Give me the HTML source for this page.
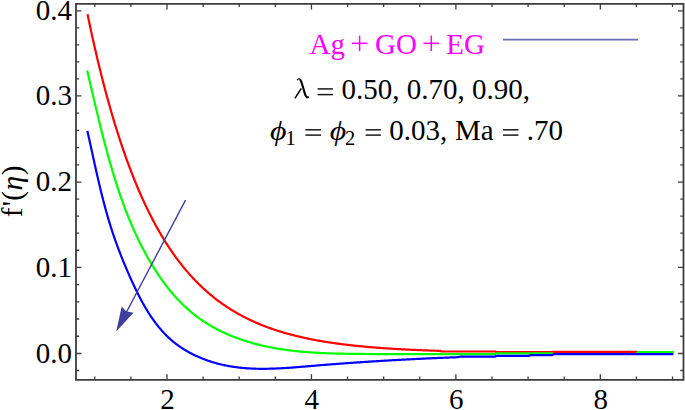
<!DOCTYPE html>
<html><head><meta charset="utf-8"><style>
html,body{margin:0;padding:0;background:#fff;width:685px;height:410px;overflow:hidden}
svg{display:block}
text{font-family:"Liberation Serif", serif}
</style></head><body>
<svg width="685" height="410" viewBox="0 0 685 410">
<rect width="685" height="410" fill="#fff"/>
<g fill="none" stroke-width="2.2" stroke-linejoin="round">
<path d="M87.50,14.19 L88.15,17.33 L88.80,20.45 L89.46,23.53 L90.11,26.59 L90.76,29.62 L91.41,32.62 L92.06,35.59 L92.71,38.54 L93.37,41.45 L94.02,44.34 L94.67,47.21 L95.32,50.04 L95.97,52.86 L96.63,55.64 L97.28,58.40 L97.93,61.13 L98.58,63.84 L99.23,66.52 L99.88,69.18 L100.54,71.82 L101.19,74.43 L101.84,77.01 L102.49,79.57 L103.14,82.11 L103.80,84.62 L104.45,87.11 L105.10,89.58 L105.75,92.02 L106.40,94.45 L107.06,96.84 L107.71,99.22 L108.36,101.58 L109.01,103.91 L109.66,106.22 L110.31,108.51 L110.97,110.78 L111.62,113.03 L112.27,115.25 L112.92,117.46 L113.57,119.65 L114.23,121.81 L114.88,123.96 L115.53,126.08 L116.18,128.19 L116.83,130.27 L117.48,132.34 L118.14,134.39 L118.79,136.42 L119.44,138.43 L120.09,140.42 L120.74,142.39 L121.40,144.34 L122.05,146.28 L122.70,148.20 L123.35,150.10 L124.00,151.98 L124.65,153.85 L125.31,155.70 L125.96,157.53 L126.61,159.34 L127.26,161.14 L127.91,162.92 L128.57,164.68 L129.22,166.43 L129.87,168.16 L130.52,169.88 L131.17,171.58 L131.82,173.26 L132.48,174.93 L133.13,176.58 L133.78,178.22 L134.43,179.84 L135.08,181.45 L135.74,183.04 L136.39,184.62 L137.04,186.18 L137.69,187.73 L138.34,189.26 L138.99,190.78 L139.65,192.29 L140.30,193.78 L140.95,195.26 L141.60,196.72 L142.25,198.17 L142.91,199.61 L143.56,201.03 L144.21,202.44 L144.86,203.84 L145.51,205.22 L146.17,206.60 L146.82,207.95 L147.47,209.30 L148.12,210.63 L148.77,211.96 L149.42,213.26 L150.08,214.56 L150.73,215.85 L151.38,217.12 L152.03,218.38 L152.68,219.63 L153.34,220.87 L153.99,222.09 L154.64,223.31 L155.29,224.51 L155.94,225.71 L156.59,226.89 L157.25,228.06 L157.90,229.22 L158.55,230.37 L159.20,231.51 L159.85,232.63 L160.51,233.75 L161.16,234.86 L161.81,235.95 L162.46,237.04 L163.11,238.12 L163.76,239.18 L164.42,240.24 L165.07,241.29 L165.72,242.32 L166.37,243.35 L167.02,244.37 L167.68,245.38 L168.33,246.38 L168.98,247.37 L169.63,248.35 L170.28,249.32 L170.93,250.28 L171.59,251.24 L172.24,252.18 L172.89,253.12 L173.54,254.04 L174.19,254.96 L174.85,255.87 L175.50,256.77 L176.15,257.67 L176.80,258.55 L177.45,259.43 L178.11,260.30 L178.76,261.16 L179.41,262.01 L180.06,262.86 L180.71,263.69 L181.36,264.52 L182.02,265.34 L182.67,266.16 L183.32,266.96 L183.97,267.76 L184.62,268.55 L185.28,269.34 L185.93,270.12 L186.58,270.89 L187.23,271.65 L187.88,272.40 L188.53,273.15 L189.19,273.89 L189.84,274.63 L190.49,275.36 L191.14,276.08 L191.79,276.79 L192.45,277.50 L193.10,278.20 L193.75,278.89 L194.40,279.58 L195.05,280.26 L195.70,280.94 L196.36,281.61 L197.01,282.27 L197.66,282.93 L198.31,283.58 L198.96,284.22 L199.62,284.86 L200.27,285.50 L200.92,286.12 L201.57,286.74 L202.22,287.36 L202.87,287.97 L203.53,288.57 L204.18,289.17 L204.83,289.76 L205.48,290.35 L206.13,290.93 L206.79,291.51 L207.44,292.08 L208.09,292.65 L208.74,293.21 L209.39,293.76 L210.05,294.31 L210.70,294.86 L211.35,295.40 L212.00,295.93 L212.65,296.46 L213.30,296.99 L213.96,297.51 L214.61,298.03 L215.26,298.54 L215.91,299.04 L216.56,299.54 L217.22,300.04 L217.87,300.53 L218.52,301.02 L219.17,301.50 L219.82,301.98 L220.47,302.45 L221.13,302.92 L221.78,303.39 L222.43,303.85 L223.08,304.31 L223.73,304.76 L224.39,305.21 L225.04,305.65 L225.69,306.09 L226.34,306.53 L226.99,306.96 L227.64,307.39 L228.30,307.81 L228.95,308.23 L229.60,308.65 L230.25,309.06 L230.90,309.47 L231.56,309.87 L232.21,310.27 L232.86,310.67 L233.51,311.06 L234.16,311.45 L234.81,311.84 L235.47,312.22 L236.12,312.60 L236.77,312.98 L237.42,313.35 L238.07,313.72 L238.73,314.08 L239.38,314.44 L240.03,314.80 L240.68,315.16 L241.33,315.51 L241.98,315.86 L242.64,316.20 L243.29,316.55 L243.94,316.89 L244.59,317.22 L245.24,317.55 L245.90,317.88 L246.55,318.21 L247.20,318.53 L247.85,318.85 L248.50,319.17 L249.16,319.49 L249.81,319.80 L250.46,320.11 L251.11,320.41 L251.76,320.72 L252.41,321.02 L253.07,321.31 L253.72,321.61 L254.37,321.90 L255.02,322.19 L255.67,322.48 L256.33,322.76 L256.98,323.04 L257.63,323.32 L258.28,323.60 L258.93,323.87 L259.58,324.14 L260.24,324.41 L260.89,324.67 L261.54,324.94 L262.19,325.20 L262.84,325.46 L263.50,325.71 L264.15,325.97 L264.80,326.22 L265.45,326.47 L266.10,326.72 L266.75,326.96 L267.41,327.20 L268.06,327.44 L268.71,327.68 L269.36,327.92 L270.01,328.15 L270.67,328.38 L271.32,328.61 L271.97,328.84 L272.62,329.06 L273.27,329.28 L273.92,329.51 L274.58,329.72 L275.23,329.94 L275.88,330.16 L276.53,330.37 L277.18,330.58 L277.84,330.79 L278.49,330.99 L279.14,331.20 L279.79,331.40 L280.44,331.60 L281.10,331.80 L281.75,332.00 L282.40,332.20 L283.05,332.39 L283.70,332.58 L284.35,332.77 L285.01,332.96 L285.66,333.15 L286.31,333.33 L286.96,333.52 L287.61,333.70 L288.27,333.88 L288.92,334.05 L289.57,334.23 L290.22,334.41 L290.87,334.58 L291.52,334.75 L292.18,334.92 L292.83,335.09 L293.48,335.26 L294.13,335.42 L294.78,335.59 L295.44,335.75 L296.09,335.91 L296.74,336.07 L297.39,336.23 L298.04,336.38 L298.69,336.54 L299.35,336.69 L300.00,336.84 L300.65,336.99 L301.30,337.14 L301.95,337.29 L302.61,337.44 L303.26,337.58 L303.91,337.73 L304.56,337.87 L305.21,338.01 L305.86,338.15 L306.52,338.29 L307.17,338.43 L307.82,338.56 L308.47,338.70 L309.12,338.83 L309.78,338.96 L310.43,339.09 L311.08,339.22 L311.73,339.35 L312.38,339.48 L313.04,339.60 L313.69,339.73 L314.34,339.85 L314.99,339.98 L315.64,340.10 L316.29,340.22 L316.95,340.34 L317.60,340.46 L318.25,340.57 L318.90,340.69 L319.55,340.80 L320.21,340.92 L320.86,341.03 L321.51,341.14 L322.16,341.25 L322.81,341.36 L323.46,341.47 L324.12,341.58 L324.77,341.69 L325.42,341.79 L326.07,341.90 L326.72,342.00 L327.38,342.10 L328.03,342.21 L328.68,342.31 L329.33,342.41 L329.98,342.51 L330.63,342.60 L331.29,342.70 L331.94,342.80 L332.59,342.89 L333.24,342.99 L333.89,343.08 L334.55,343.17 L335.20,343.27 L335.85,343.36 L336.50,343.45 L337.15,343.54 L337.80,343.62 L338.46,343.71 L339.11,343.80 L339.76,343.89 L340.41,343.97 L341.06,344.06 L341.72,344.14 L342.37,344.22 L343.02,344.30 L343.67,344.39 L344.32,344.47 L344.97,344.55 L345.63,344.63 L346.28,344.70 L346.93,344.78 L347.58,344.86 L348.23,344.94 L348.89,345.01 L349.54,345.09 L350.19,345.16 L350.84,345.23 L351.49,345.31 L352.15,345.38 L352.80,345.45 L353.45,345.52 L354.10,345.59 L354.75,345.66 L355.40,345.73 L356.06,345.80 L356.71,345.86 L357.36,345.93 L358.01,346.00 L358.66,346.06 L359.32,346.13 L359.97,346.19 L360.62,346.26 L361.27,346.32 L361.92,346.38 L362.57,346.45 L363.23,346.51 L363.88,346.57 L364.53,346.63 L365.18,346.69 L365.83,346.75 L366.49,346.81 L367.14,346.86 L367.79,346.92 L368.44,346.98 L369.09,347.04 L369.74,347.09 L370.40,347.15 L371.05,347.20 L371.70,347.26 L372.35,347.31 L373.00,347.37 L373.66,347.42 L374.31,347.47 L374.96,347.52 L375.61,347.57 L376.26,347.63 L376.91,347.68 L377.57,347.73 L378.22,347.78 L378.87,347.83 L379.52,347.87 L380.17,347.92 L380.83,347.97 L381.48,348.02 L382.13,348.06 L382.78,348.11 L383.43,348.16 L384.09,348.20 L384.74,348.25 L385.39,348.29 L386.04,348.34 L386.69,348.38 L387.34,348.43 L388.00,348.47 L388.65,348.51 L389.30,348.55 L389.95,348.60 L390.60,348.64 L391.26,348.68 L391.91,348.72 L392.56,348.76 L393.21,348.80 L393.86,348.84 L394.51,348.88 L395.17,348.92 L395.82,348.96 L396.47,349.00 L397.12,349.03 L397.77,349.07 L398.43,349.11 L399.08,349.14 L399.73,349.18 L400.38,349.22 L401.03,349.25 L401.68,349.29 L402.34,349.32 L402.99,349.36 L403.64,349.39 L404.29,349.43 L404.94,349.46 L405.60,349.50 L406.25,349.53 L406.90,349.56 L407.55,349.59 L408.20,349.63 L408.85,349.66 L409.51,349.69 L410.16,349.72 L410.81,349.75 L411.46,349.78 L412.11,349.81 L412.77,349.85 L413.42,349.88 L414.07,349.90 L414.72,349.93 L415.37,349.96 L416.03,349.99 L416.68,350.02 L417.33,350.05 L417.98,350.08 L418.63,350.11 L419.28,350.13 L419.94,350.16 L420.59,350.19 L421.24,350.21 L421.89,350.24 L422.54,350.27 L423.20,350.29 L423.85,350.32 L424.50,350.35 L425.15,350.37 L425.80,350.40 L426.45,350.42 L427.11,350.45 L427.76,350.47 L428.41,350.49 L429.06,350.52 L429.71,350.54 L430.37,350.57 L431.02,350.59 L431.67,350.61 L432.32,350.64 L432.97,350.66 L433.62,350.68 L434.28,350.70 L434.93,350.72 L435.58,350.75 L436.23,350.77 L436.88,350.79 L437.54,350.81 L438.19,350.83 L438.84,350.85 L439.49,350.87 L440.14,350.89 L440.79,351.13 L441.45,351.39 L442.10,351.50 L442.75,351.50 L443.40,351.50 L444.05,351.50 L444.71,351.50 L445.36,351.50 L446.01,351.50 L446.66,351.50 L447.31,351.50 L447.96,351.50 L448.62,351.50 L449.27,351.50 L449.92,351.50 L450.57,351.50 L451.22,351.50 L451.88,351.50 L452.53,351.50 L453.18,351.50 L453.83,351.50 L454.48,351.50 L455.14,351.50 L455.79,351.50 L456.44,351.50 L457.09,351.50 L457.74,351.50 L458.39,351.50 L459.05,351.50 L459.70,351.50 L460.35,351.50 L461.00,351.50 L461.65,351.50 L462.31,351.50 L462.96,351.50 L463.61,351.50 L464.26,351.50 L464.91,351.50 L465.56,351.50 L466.22,351.50 L466.87,351.50 L467.52,351.50 L468.17,351.50 L468.82,351.50 L469.48,351.50 L470.13,351.50 L470.78,351.50 L471.43,351.50 L472.08,351.50 L472.73,351.50 L473.39,351.50 L474.04,351.50 L474.69,351.50 L475.34,351.50 L475.99,351.50 L476.65,351.50 L477.30,351.50 L477.95,351.50 L478.60,351.50 L479.25,351.50 L479.90,351.50 L480.56,351.50 L481.21,351.50 L481.86,351.50 L482.51,351.50 L483.16,351.50 L483.82,351.50 L484.47,351.50 L485.12,351.50 L485.77,351.50 L486.42,351.50 L487.08,351.50 L487.73,351.50 L488.38,351.50 L489.03,351.50 L489.68,351.50 L490.33,351.50 L490.99,351.50 L491.64,351.50 L492.29,351.50 L492.94,351.50 L493.59,351.50 L494.25,351.50 L494.90,351.50 L495.55,351.60 L496.20,351.82 L496.85,352.00 L497.50,352.00 L498.16,352.00 L498.81,352.00 L499.46,352.00 L500.11,352.00 L500.76,352.00 L501.42,352.00 L502.07,352.00 L502.72,352.00 L503.37,352.00 L504.02,352.00 L504.67,352.00 L505.33,352.00 L505.98,352.00 L506.63,352.00 L507.28,352.00 L507.93,352.00 L508.59,352.00 L509.24,352.00 L509.89,352.00 L510.54,352.00 L511.19,352.00 L511.84,352.00 L512.50,352.00 L513.15,352.00 L513.80,352.00 L514.45,352.00 L515.10,352.00 L515.76,352.00 L516.41,352.00 L517.06,352.00 L517.71,352.00 L518.36,352.00 L519.02,352.00 L519.67,352.00 L520.32,352.00 L520.97,352.00 L521.62,352.00 L522.27,352.00 L522.93,352.00 L523.58,352.00 L524.23,352.00 L524.88,352.00 L525.53,352.00 L526.19,352.00 L526.84,352.00 L527.49,352.00 L528.14,352.00 L528.79,352.00 L529.44,352.00 L530.10,352.00 L530.75,352.00 L531.40,352.00 L532.05,352.00 L532.70,352.00 L533.36,352.00 L534.01,352.00 L534.66,352.00 L535.31,352.00 L535.96,352.00 L536.61,352.00 L537.27,352.00 L537.92,352.00 L538.57,352.00 L539.22,352.00 L539.87,352.00 L540.53,352.00 L541.18,352.00 L541.83,352.00 L542.48,352.00 L543.13,352.00 L543.78,352.00 L544.44,352.00 L545.09,352.00 L545.74,352.00 L546.39,352.00 L547.04,352.00 L547.70,352.00 L548.35,352.00 L549.00,352.00 L549.65,352.00 L550.30,352.00 L550.95,352.00 L551.61,352.00 L552.26,352.00 L552.91,351.96 L553.56,351.91 L554.21,351.90 L554.87,351.90 L555.52,351.90 L556.17,351.90 L556.82,351.90 L557.47,351.90 L558.13,351.90 L558.78,351.90 L559.43,351.90 L560.08,351.90 L560.73,351.90 L561.38,351.90 L562.04,351.90 L562.69,351.90 L563.34,351.90 L563.99,351.90 L564.64,351.90 L565.30,351.90 L565.95,351.90 L566.60,351.90 L567.25,351.90 L567.90,351.90 L568.55,351.90 L569.21,351.90 L569.86,351.90 L570.51,351.90 L571.16,351.90 L571.81,351.90 L572.47,351.90 L573.12,351.90 L573.77,351.90 L574.42,351.90 L575.07,351.90 L575.72,351.90 L576.38,351.90 L577.03,351.90 L577.68,351.90 L578.33,351.90 L578.98,351.90 L579.64,351.90 L580.29,351.90 L580.94,351.90 L581.59,351.90 L582.24,351.90 L582.89,351.90 L583.55,351.90 L584.20,351.90 L584.85,351.90 L585.50,351.90 L586.15,351.90 L586.81,351.90 L587.46,351.90 L588.11,351.90 L588.76,351.90 L589.41,351.90 L590.07,351.90 L590.72,351.90 L591.37,351.90 L592.02,351.90 L592.67,351.90 L593.32,351.90 L593.98,351.90 L594.63,351.90 L595.28,351.90 L595.93,351.90 L596.58,351.90 L597.24,351.90 L597.89,351.90 L598.54,351.90 L599.19,351.90 L599.84,351.90 L600.49,351.90 L601.15,351.90 L601.80,351.90 L602.45,351.90 L603.10,351.90 L603.75,351.90 L604.41,351.90 L605.06,351.90 L605.71,351.90 L606.36,351.90 L607.01,351.90 L607.66,351.90 L608.32,351.90 L608.97,351.90 L609.62,351.90 L610.27,351.90 L610.92,351.90 L611.58,351.90 L612.23,351.90 L612.88,351.90 L613.53,351.90 L614.18,351.90 L614.83,351.90 L615.49,351.90 L616.14,351.90 L616.79,351.90 L617.44,351.90 L618.09,351.90 L618.75,351.90 L619.40,351.90 L620.05,351.90 L620.70,351.90 L621.35,351.90 L622.01,351.90 L622.66,351.90 L623.31,351.90 L623.96,351.90 L624.61,351.90 L625.26,351.90 L625.92,351.90 L626.57,351.90 L627.22,351.90 L627.87,351.90 L628.52,351.90 L629.18,351.90 L629.83,351.90 L630.48,351.90 L631.13,351.90 L631.78,351.90 L632.43,351.90 L633.09,351.90 L633.74,351.90 L634.39,351.90 L635.04,351.90 L635.69,351.90 L636.35,351.91 L637.00,352.00 L637.65,352.09 L638.30,352.10 L638.95,352.10 L639.60,352.10 L640.26,352.10 L640.91,352.10 L641.56,352.10 L642.21,352.10 L642.86,352.10 L643.52,352.10 L644.17,352.10 L644.82,352.10 L645.47,352.10 L646.12,352.10 L646.77,352.10 L647.43,352.10 L648.08,352.10 L648.73,352.10 L649.38,352.10 L650.03,352.10 L650.69,352.10 L651.34,352.10 L651.99,352.10 L652.64,352.10 L653.29,352.10 L653.94,352.10 L654.60,352.10 L655.25,352.10 L655.90,352.10 L656.55,352.10 L657.20,352.10 L657.86,352.10 L658.51,352.10 L659.16,352.10 L659.81,352.10 L660.46,352.10 L661.12,352.10 L661.77,352.10 L662.42,352.10 L663.07,352.10 L663.72,352.10 L664.37,352.10 L665.03,352.10 L665.68,352.10 L666.33,352.10 L666.98,352.10 L667.63,352.10 L668.29,352.10 L668.94,352.10 L669.59,352.10 L670.24,352.10 L670.89,352.10 L671.54,352.10 L672.20,352.10 L672.85,352.10 L673.50,352.10" stroke="#ff0000"/>
<path d="M87.20,70.60 L87.48,71.80 L87.77,73.00 L88.05,74.21 L88.33,75.41 L88.61,76.62 L88.90,77.83 L89.18,79.04 L89.46,80.25 L89.74,81.46 L90.03,82.67 L90.31,83.88 L90.59,85.09 L90.88,86.30 L91.16,87.52 L91.44,88.73 L91.72,89.94 L92.01,91.15 L92.29,92.36 L92.57,93.57 L92.85,94.78 L93.14,95.99 L93.42,97.19 L93.70,98.40 L93.98,99.60 L94.27,100.81 L94.55,102.01 L94.83,103.21 L95.12,104.41 L95.40,105.60 L95.68,106.80 L95.96,107.99 L96.25,109.18 L96.53,110.36 L96.81,111.55 L97.09,112.73 L97.38,113.91 L97.66,115.08 L97.94,116.26 L98.23,117.43 L98.51,118.59 L98.79,119.76 L99.07,120.92 L99.36,122.08 L99.64,123.23 L99.92,124.38 L100.20,125.52 L100.49,126.67 L100.77,127.80 L101.05,128.94 L101.34,130.07 L101.62,131.20 L101.90,132.32 L102.18,133.44 L102.47,134.55 L102.75,135.66 L103.03,136.77 L103.31,137.87 L103.60,138.96 L103.88,140.06 L104.16,141.14 L104.45,142.23 L104.73,143.31 L105.01,144.38 L105.29,145.45 L105.58,146.51 L105.86,147.57 L106.14,148.63 L106.42,149.68 L106.71,150.73 L106.99,151.77 L107.27,152.80 L107.55,153.83 L107.84,154.86 L108.12,155.88 L108.40,156.90 L108.69,157.91 L108.97,158.92 L109.25,159.92 L109.53,160.92 L109.82,161.91 L110.10,162.90 L110.38,163.88 L110.66,164.86 L110.95,165.83 L111.23,166.80 L111.51,167.76 L111.80,168.72 L112.08,169.68 L112.36,170.62 L112.64,171.57 L112.93,172.51 L113.21,173.44 L113.49,174.37 L113.77,175.30 L114.06,176.22 L114.34,177.13 L114.62,178.04 L114.91,178.95 L115.19,179.85 L115.47,180.75 L115.75,181.64 L116.04,182.53 L116.32,183.41 L116.60,184.29 L116.88,185.16 L117.17,186.03 L117.45,186.90 L117.73,187.76 L118.02,188.62 L118.30,189.47 L118.58,190.31 L118.86,191.16 L119.15,191.99 L119.43,192.83 L119.71,193.66 L119.99,194.48 L120.28,195.30 L120.56,196.12 L120.84,196.93 L121.12,197.74 L121.41,198.54 L121.69,199.34 L121.97,200.14 L122.26,200.93 L122.54,201.71 L122.82,202.49 L123.10,203.27 L123.39,204.04 L123.67,204.81 L123.95,205.58 L124.23,206.34 L124.52,207.10 L124.80,207.85 L125.08,208.60 L125.37,209.34 L125.65,210.08 L125.93,210.82 L126.21,211.55 L126.50,212.28 L126.78,213.01 L127.06,213.73 L127.34,214.44 L127.63,215.16 L127.91,215.87 L128.19,216.57 L128.48,217.27 L128.76,217.97 L129.04,218.66 L129.32,219.36 L129.61,220.04 L129.89,220.73 L130.17,221.40 L130.45,222.08 L130.74,222.75 L131.02,223.42 L131.30,224.09 L131.58,224.75 L131.87,225.41 L132.15,226.06 L132.43,226.71 L132.72,227.36 L133.00,228.01 L133.28,228.65 L133.56,229.28 L133.85,229.92 L134.13,230.55 L134.41,231.18 L134.69,231.80 L134.98,232.42 L135.26,233.04 L135.54,233.66 L135.83,234.27 L136.11,234.88 L136.39,235.48 L136.67,236.09 L136.96,236.69 L137.24,237.28 L137.52,237.88 L137.80,238.47 L138.09,239.06 L138.37,239.64 L138.65,240.22 L138.94,240.80 L139.22,241.38 L139.50,241.95 L139.78,242.52 L140.07,243.09 L140.35,243.66 L140.63,244.22 L140.91,244.78 L141.20,245.33 L141.48,245.89 L141.76,246.44 L142.05,246.99 L142.33,247.54 L142.61,248.08 L142.89,248.62 L143.18,249.16 L143.46,249.70 L143.74,250.23 L144.02,250.76 L144.31,251.29 L144.59,251.82 L144.87,252.34 L145.15,252.87 L145.44,253.39 L145.72,253.90 L146.00,254.42 L146.29,254.93 L146.57,255.44 L146.85,255.95 L147.13,256.45 L147.42,256.96 L147.70,257.46 L147.98,257.96 L148.26,258.45 L148.55,258.95 L148.83,259.44 L149.11,259.93 L149.40,260.42 L149.68,260.90 L149.96,261.38 L150.24,261.87 L150.53,262.34 L150.81,262.82 L151.09,263.30 L151.37,263.77 L151.66,264.24 L151.94,264.71 L152.22,265.17 L152.51,265.63 L152.79,266.10 L153.07,266.56 L153.35,267.01 L153.64,267.47 L153.92,267.92 L154.20,268.37 L154.48,268.82 L154.77,269.27 L155.05,269.71 L155.33,270.15 L155.62,270.60 L155.90,271.03 L156.18,271.47 L156.46,271.90 L156.75,272.34 L157.03,272.77 L157.31,273.20 L157.59,273.62 L157.88,274.05 L158.16,274.47 L158.44,274.89 L158.72,275.31 L159.01,275.73 L159.29,276.14 L159.57,276.55 L159.86,276.96 L160.14,277.37 L160.42,277.78 L160.70,278.19 L160.99,278.59 L161.27,278.99 L161.55,279.39 L161.83,279.79 L162.12,280.18 L162.40,280.58 L162.68,280.97 L162.97,281.36 L163.25,281.75 L163.53,282.14 L163.81,282.52 L164.10,282.90 L164.38,283.28 L164.66,283.66 L164.94,284.04 L165.23,284.42 L165.51,284.79 L165.79,285.16 L166.08,285.53 L166.36,285.90 L166.64,286.27 L166.92,286.63 L167.21,287.00 L167.49,287.36 L167.77,287.72 L168.05,288.08 L168.34,288.43 L168.62,288.79 L168.90,289.14 L169.18,289.49 L169.47,289.84 L169.75,290.19 L170.03,290.54 L170.32,290.88 L170.60,291.22 L170.88,291.56 L171.16,291.90 L171.45,292.24 L171.73,292.58 L172.01,292.91 L172.29,293.24 L172.58,293.57 L172.86,293.90 L173.14,294.23 L173.43,294.56 L173.71,294.88 L173.99,295.21 L174.27,295.53 L174.56,295.85 L174.84,296.17 L175.12,296.48 L175.40,296.80 L175.69,297.11 L175.97,297.42 L176.25,297.73 L176.54,298.04 L176.82,298.35 L177.10,298.65 L177.38,298.96 L177.67,299.26 L177.95,299.56 L178.23,299.86 L178.51,300.16 L178.80,300.45 L179.08,300.75 L179.36,301.04 L179.65,301.34 L179.93,301.63 L180.21,301.91 L180.49,302.20 L180.78,302.49 L181.06,302.77 L181.34,303.06 L181.62,303.34 L181.91,303.62 L182.19,303.90 L182.47,304.17 L182.75,304.45 L183.04,304.72 L183.32,305.00 L183.60,305.27 L183.89,305.54 L184.17,305.81 L184.45,306.07 L184.73,306.34 L185.02,306.60 L185.30,306.87 L185.58,307.13 L185.86,307.39 L186.15,307.65 L186.43,307.91 L186.71,308.16 L187.00,308.42 L187.28,308.67 L187.56,308.92 L187.84,309.17 L188.13,309.42 L188.41,309.67 L188.69,309.92 L188.97,310.16 L189.26,310.41 L189.54,310.65 L189.82,310.89 L190.11,311.13 L190.39,311.37 L190.67,311.61 L190.95,311.85 L191.24,312.09 L191.52,312.32 L191.80,312.55 L192.08,312.79 L192.37,313.02 L192.65,313.25 L192.93,313.48 L193.22,313.70 L193.50,313.93 L193.78,314.16 L194.06,314.38 L194.35,314.60 L194.63,314.83 L194.91,315.05 L195.19,315.27 L195.48,315.48 L195.76,315.70 L196.04,315.92 L196.32,316.13 L196.61,316.35 L196.89,316.56 L197.17,316.77 L197.46,316.98 L197.74,317.19 L198.02,317.40 L198.30,317.61 L198.59,317.82 L198.87,318.02 L199.15,318.23 L199.43,318.43 L199.72,318.63 L200.00,318.84 L200.50,319.19 L201.45,319.85 L202.40,320.50 L203.34,321.14 L204.29,321.77 L205.24,322.39 L206.19,323.00 L207.14,323.60 L208.08,324.19 L209.03,324.77 L209.98,325.33 L210.93,325.89 L211.87,326.44 L212.82,326.98 L213.77,327.51 L214.72,328.03 L215.67,328.54 L216.61,329.05 L217.56,329.54 L218.51,330.03 L219.46,330.51 L220.41,330.98 L221.35,331.44 L222.30,331.89 L223.25,332.34 L224.20,332.78 L225.15,333.22 L226.09,333.64 L227.04,334.06 L227.99,334.47 L228.94,334.88 L229.88,335.28 L230.83,335.67 L231.78,336.05 L232.73,336.43 L233.68,336.81 L234.62,337.17 L235.57,337.54 L236.52,337.89 L237.47,338.24 L238.42,338.58 L239.36,338.92 L240.31,339.25 L241.26,339.58 L242.21,339.90 L243.16,340.22 L244.10,340.53 L245.05,340.83 L246.00,341.13 L246.95,341.43 L247.89,341.72 L248.84,342.00 L249.79,342.28 L250.74,342.56 L251.69,342.83 L252.63,343.10 L253.58,343.36 L254.53,343.62 L255.48,343.87 L256.43,344.12 L257.37,344.36 L258.32,344.60 L259.27,344.84 L260.22,345.07 L261.17,345.29 L262.11,345.52 L263.06,345.73 L264.01,345.95 L264.96,346.16 L265.90,346.37 L266.85,346.57 L267.80,346.77 L268.75,346.96 L269.70,347.15 L270.64,347.34 L271.59,347.53 L272.54,347.71 L273.49,347.88 L274.44,348.06 L275.38,348.23 L276.33,348.39 L277.28,348.55 L278.23,348.71 L279.18,348.87 L280.12,349.02 L281.07,349.17 L282.02,349.32 L282.97,349.46 L283.91,349.60 L284.86,349.74 L285.81,349.87 L286.76,350.00 L287.71,350.13 L288.65,350.25 L289.60,350.37 L290.55,350.49 L291.50,350.61 L292.45,350.72 L293.39,350.83 L294.34,350.94 L295.29,351.04 L296.24,351.15 L297.19,351.25 L298.13,351.34 L299.08,351.44 L300.03,351.53 L300.98,351.62 L301.92,351.71 L302.87,351.79 L303.82,351.87 L304.77,351.95 L305.72,352.03 L306.66,352.11 L307.61,352.18 L308.56,352.25 L309.51,352.32 L310.46,352.39 L311.40,352.46 L312.35,352.52 L313.30,352.58 L314.25,352.64 L315.20,352.70 L316.14,352.75 L317.09,352.81 L318.04,352.86 L318.99,352.91 L319.93,352.96 L320.88,353.00 L321.83,353.05 L322.78,353.09 L323.73,353.13 L324.67,353.18 L325.62,353.21 L326.57,353.25 L327.52,353.29 L328.47,353.32 L329.41,353.36 L330.36,353.39 L331.31,353.42 L332.26,353.45 L333.21,353.48 L334.15,353.51 L335.10,353.53 L336.05,353.56 L337.00,353.58 L337.94,353.60 L338.89,353.63 L339.84,353.65 L340.79,353.67 L341.74,353.69 L342.68,353.70 L343.63,353.72 L344.58,353.74 L345.53,353.76 L346.48,353.77 L347.42,353.79 L348.37,353.80 L349.32,353.81 L350.27,353.83 L351.22,353.84 L352.16,353.85 L353.11,353.86 L354.06,353.87 L355.01,353.88 L355.95,353.89 L356.90,353.90 L357.85,353.91 L358.80,353.92 L359.75,353.93 L360.69,353.94 L361.64,353.95 L362.59,353.96 L363.54,353.97 L364.49,353.97 L365.43,353.98 L366.38,353.99 L367.33,354.00 L368.28,354.01 L369.23,354.01 L370.17,354.02 L371.12,354.03 L372.07,354.04 L373.02,354.04 L373.96,354.05 L374.91,354.06 L375.86,354.06 L376.81,354.07 L377.76,354.07 L378.70,354.08 L379.65,354.09 L380.60,354.09 L381.55,354.10 L382.50,354.10 L383.44,354.11 L384.39,354.11 L385.34,354.12 L386.29,354.12 L387.24,354.13 L388.18,354.13 L389.13,354.14 L390.08,354.14 L391.03,354.14 L391.97,354.15 L392.92,354.15 L393.87,354.16 L394.82,354.16 L395.77,354.16 L396.71,354.17 L397.66,354.17 L398.61,354.17 L399.56,354.18 L400.51,354.18 L401.45,354.18 L402.40,354.18 L403.35,354.19 L404.30,354.19 L405.25,354.19 L406.19,354.19 L407.14,354.20 L408.09,354.20 L409.04,354.20 L409.98,354.20 L410.93,354.20 L411.88,354.20 L412.83,354.21 L413.78,354.21 L414.72,354.21 L415.67,354.21 L416.62,354.21 L417.57,354.21 L418.52,354.21 L419.46,354.21 L420.41,354.21 L421.36,354.21 L422.31,354.21 L423.26,354.21 L424.20,354.21 L425.15,354.21 L426.10,354.21 L427.05,354.21 L427.99,354.21 L428.94,354.21 L429.89,354.21 L430.84,354.21 L431.79,354.21 L432.73,354.21 L433.68,354.21 L434.63,354.21 L435.58,354.21 L436.53,354.21 L437.47,354.21 L438.42,354.21 L439.37,354.20 L440.32,354.20 L441.27,354.20 L442.21,354.20 L443.16,354.20 L444.11,354.20 L445.06,354.20 L446.01,354.19 L446.95,354.19 L447.90,354.19 L448.85,354.19 L449.80,354.19 L450.74,354.19 L451.69,354.18 L452.64,354.18 L453.59,354.18 L454.54,354.18 L455.48,354.18 L456.43,354.17 L457.38,354.17 L458.33,354.17 L459.28,354.17 L460.22,354.16 L461.17,354.16 L462.12,354.16 L463.07,354.16 L464.02,354.15 L464.96,354.15 L465.91,354.15 L466.86,354.14 L467.81,354.14 L468.75,354.14 L469.70,354.14 L470.65,354.13 L471.60,354.13 L472.55,354.13 L473.49,354.12 L474.44,354.12 L475.39,354.12 L476.34,354.11 L477.29,354.11 L478.23,354.11 L479.18,354.11 L480.13,354.07 L481.08,354.05 L482.03,354.05 L482.97,354.05 L483.92,354.05 L484.87,354.05 L485.82,354.05 L486.76,354.05 L487.71,354.05 L488.66,354.05 L489.61,354.05 L490.56,354.05 L491.50,354.05 L492.45,354.05 L493.40,354.05 L494.35,354.05 L495.30,354.03 L496.24,353.55 L497.19,353.30 L498.14,353.30 L499.09,353.30 L500.04,353.30 L500.98,353.30 L501.93,353.30 L502.88,353.30 L503.83,353.30 L504.77,353.30 L505.72,353.30 L506.67,353.30 L507.62,353.30 L508.57,353.30 L509.51,353.30 L510.46,353.30 L511.41,353.30 L512.36,353.30 L513.31,353.30 L514.25,353.30 L515.20,353.30 L516.15,353.30 L517.10,353.30 L518.05,353.30 L518.99,353.30 L519.94,353.30 L520.89,353.30 L521.84,353.30 L522.78,353.30 L523.73,353.30 L524.68,353.30 L525.63,353.30 L526.58,353.30 L527.52,353.30 L528.47,353.30 L529.42,353.30 L530.37,353.30 L531.32,353.30 L532.26,353.30 L533.21,353.30 L534.16,353.30 L535.11,353.30 L536.06,353.30 L537.00,353.30 L537.95,353.30 L538.90,353.30 L539.85,353.30 L540.79,353.30 L541.74,353.30 L542.69,353.30 L543.64,353.30 L544.59,353.30 L545.53,353.30 L546.48,353.30 L547.43,353.30 L548.38,353.30 L549.33,353.30 L550.27,353.30 L551.22,353.30 L552.17,353.30 L553.12,353.70 L554.07,354.00 L555.01,354.00 L555.96,354.00 L556.91,354.00 L557.86,354.00 L558.80,354.00 L559.75,354.00 L560.70,354.00 L561.65,354.00 L562.60,354.00 L563.54,354.00 L564.49,354.00 L565.44,354.00 L566.39,354.00 L567.34,354.00 L568.28,354.00 L569.23,354.00 L570.18,354.00 L571.13,354.00 L572.08,354.00 L573.02,354.00 L573.97,354.00 L574.92,354.00 L575.87,354.00 L576.81,354.00 L577.76,354.00 L578.71,354.00 L579.66,354.00 L580.61,354.00 L581.55,354.00 L582.50,354.00 L583.45,354.00 L584.40,354.00 L585.35,354.00 L586.29,354.00 L587.24,354.00 L588.19,354.00 L589.14,354.00 L590.09,354.00 L591.03,354.00 L591.98,354.00 L592.93,354.00 L593.88,354.00 L594.82,354.00 L595.77,354.00 L596.72,354.00 L597.67,354.00 L598.62,354.00 L599.56,354.00 L600.51,354.00 L601.46,354.00 L602.41,354.00 L603.36,354.00 L604.30,354.00 L605.25,354.00 L606.20,354.00 L607.15,354.00 L608.10,354.00 L609.04,354.00 L609.99,354.00 L610.94,354.00 L611.89,354.00 L612.83,354.00 L613.78,354.00 L614.73,354.00 L615.68,354.00 L616.63,354.00 L617.57,354.00 L618.52,354.00 L619.47,354.00 L620.42,354.00 L621.37,354.00 L622.31,354.00 L623.26,354.00 L624.21,354.00 L625.16,354.00 L626.11,354.00 L627.05,354.00 L628.00,354.00 L628.95,354.00 L629.90,354.00 L630.84,354.00 L631.79,354.00 L632.74,354.00 L633.69,354.00 L634.64,354.00 L635.58,354.00 L636.53,353.64 L637.48,352.44 L638.43,352.10 L639.38,352.10 L640.32,352.10 L641.27,352.10 L642.22,352.10 L643.17,352.10 L644.12,352.10 L645.06,352.10 L646.01,352.10 L646.96,352.10 L647.91,352.10 L648.85,352.10 L649.80,352.10 L650.75,352.10 L651.70,352.10 L652.65,352.10 L653.59,352.10 L654.54,352.10 L655.49,352.10 L656.44,352.10 L657.39,352.10 L658.33,352.10 L659.28,352.10 L660.23,352.10 L661.18,352.10 L662.13,352.10 L663.07,352.10 L664.02,352.10 L664.97,352.10 L665.92,352.10 L666.86,352.10 L667.81,352.10 L668.76,352.10 L669.71,352.10 L670.66,352.10 L671.60,352.10 L672.55,352.10 L673.50,352.10" stroke="#00ff00"/>
<path d="M87.30,130.92 L87.58,131.83 L87.86,133.08 L88.15,134.35 L88.43,135.62 L88.71,136.89 L88.99,138.16 L89.28,139.44 L89.56,140.72 L89.84,142.00 L90.12,143.29 L90.41,144.57 L90.69,145.86 L90.97,147.15 L91.25,148.44 L91.54,149.74 L91.82,151.03 L92.10,152.32 L92.38,153.61 L92.67,154.90 L92.95,156.19 L93.23,157.48 L93.51,158.77 L93.80,160.06 L94.08,161.34 L94.36,162.62 L94.64,163.90 L94.93,165.18 L95.21,166.45 L95.49,167.72 L95.77,168.98 L96.06,170.24 L96.34,171.50 L96.62,172.75 L96.90,174.00 L97.19,175.24 L97.47,176.48 L97.75,177.71 L98.03,178.93 L98.32,180.15 L98.60,181.37 L98.88,182.57 L99.16,183.77 L99.45,184.97 L99.73,186.16 L100.01,187.34 L100.29,188.51 L100.58,189.68 L100.86,190.84 L101.14,191.99 L101.42,193.14 L101.71,194.27 L101.99,195.41 L102.27,196.53 L102.55,197.64 L102.84,198.75 L103.12,199.85 L103.40,200.95 L103.68,202.03 L103.96,203.11 L104.25,204.18 L104.53,205.24 L104.81,206.30 L105.09,207.35 L105.38,208.38 L105.66,209.42 L105.94,210.44 L106.22,211.46 L106.51,212.47 L106.79,213.47 L107.07,214.46 L107.35,215.45 L107.64,216.43 L107.92,217.40 L108.20,218.36 L108.48,219.32 L108.77,220.27 L109.05,221.21 L109.33,222.14 L109.61,223.07 L109.90,223.99 L110.18,224.91 L110.46,225.81 L110.74,226.71 L111.03,227.60 L111.31,228.49 L111.59,229.37 L111.87,230.24 L112.16,231.11 L112.44,231.97 L112.72,232.82 L113.00,233.67 L113.29,234.51 L113.57,235.34 L113.85,236.17 L114.13,237.00 L114.42,237.81 L114.70,238.63 L114.98,239.44 L115.26,240.24 L115.55,241.04 L115.83,241.83 L116.11,242.62 L116.39,243.40 L116.68,244.18 L116.96,244.95 L117.24,245.72 L117.52,246.49 L117.81,247.25 L118.09,248.01 L118.37,248.76 L118.65,249.51 L118.94,250.26 L119.22,251.00 L119.50,251.73 L119.78,252.47 L120.06,253.20 L120.35,253.93 L120.63,254.65 L120.91,255.37 L121.19,256.08 L121.48,256.80 L121.76,257.51 L122.04,258.21 L122.32,258.91 L122.61,259.61 L122.89,260.31 L123.17,261.00 L123.45,261.69 L123.74,262.38 L124.02,263.07 L124.30,263.75 L124.58,264.43 L124.87,265.10 L125.15,265.78 L125.43,266.45 L125.71,267.12 L126.00,267.78 L126.28,268.45 L126.56,269.11 L126.84,269.76 L127.13,270.42 L127.41,271.07 L127.69,271.72 L127.97,272.37 L128.26,273.02 L128.54,273.66 L128.82,274.30 L129.10,274.94 L129.39,275.58 L129.67,276.22 L129.95,276.85 L130.23,277.48 L130.52,278.11 L130.80,278.74 L131.08,279.36 L131.36,279.98 L131.65,280.60 L131.93,281.22 L132.21,281.84 L132.49,282.45 L132.78,283.06 L133.06,283.67 L133.34,284.28 L133.62,284.89 L133.91,285.49 L134.19,286.09 L134.47,286.69 L134.75,287.28 L135.04,287.88 L135.32,288.46 L135.60,289.05 L135.88,289.64 L136.16,290.22 L136.45,290.80 L136.73,291.37 L137.01,291.95 L137.29,292.52 L137.58,293.08 L137.86,293.65 L138.14,294.21 L138.42,294.77 L138.71,295.32 L138.99,295.88 L139.27,296.43 L139.55,296.97 L139.84,297.52 L140.12,298.06 L140.40,298.59 L140.68,299.13 L140.97,299.66 L141.25,300.19 L141.53,300.71 L141.81,301.23 L142.10,301.75 L142.38,302.27 L142.66,302.78 L142.94,303.29 L143.23,303.79 L143.51,304.30 L143.79,304.80 L144.07,305.29 L144.36,305.79 L144.64,306.28 L144.92,306.76 L145.20,307.25 L145.49,307.73 L145.77,308.21 L146.05,308.68 L146.33,309.15 L146.62,309.62 L146.90,310.09 L147.18,310.55 L147.46,311.01 L147.75,311.47 L148.03,311.92 L148.31,312.37 L148.59,312.82 L148.88,313.26 L149.16,313.70 L149.44,314.14 L149.72,314.58 L150.01,315.01 L150.29,315.44 L150.57,315.86 L150.85,316.29 L151.14,316.71 L151.42,317.13 L151.70,317.54 L151.98,317.95 L152.26,318.36 L152.55,318.77 L152.83,319.17 L153.11,319.57 L153.39,319.97 L153.68,320.37 L153.96,320.76 L154.24,321.15 L154.52,321.54 L154.81,321.92 L155.09,322.30 L155.37,322.68 L155.65,323.06 L155.94,323.43 L156.22,323.80 L156.50,324.17 L156.78,324.54 L157.07,324.90 L157.35,325.26 L157.63,325.62 L157.91,325.97 L158.20,326.33 L158.48,326.68 L158.76,327.02 L159.04,327.37 L159.33,327.71 L159.61,328.05 L159.89,328.39 L160.17,328.72 L160.46,329.06 L160.74,329.38 L161.02,329.71 L161.30,330.04 L161.59,330.36 L161.87,330.68 L162.15,331.00 L162.43,331.31 L162.72,331.62 L163.00,331.93 L163.28,332.24 L163.56,332.55 L163.85,332.85 L164.13,333.15 L164.41,333.45 L164.69,333.75 L164.98,334.04 L165.26,334.33 L165.54,334.62 L165.82,334.91 L166.11,335.19 L166.39,335.47 L166.67,335.75 L166.95,336.03 L167.24,336.31 L167.52,336.58 L167.80,336.85 L168.08,337.12 L168.36,337.39 L168.65,337.65 L168.93,337.91 L169.21,338.17 L169.49,338.43 L169.78,338.69 L170.06,338.94 L170.34,339.20 L170.62,339.45 L170.91,339.69 L171.19,339.94 L171.47,340.18 L171.75,340.43 L172.04,340.67 L172.32,340.90 L172.60,341.14 L172.88,341.37 L173.17,341.61 L173.45,341.84 L173.73,342.07 L174.01,342.29 L174.30,342.52 L174.58,342.74 L174.86,342.97 L175.14,343.19 L175.43,343.40 L175.71,343.62 L175.99,343.84 L176.27,344.05 L176.56,344.26 L176.84,344.47 L177.12,344.68 L177.40,344.89 L177.69,345.10 L177.97,345.30 L178.25,345.51 L178.53,345.71 L178.82,345.91 L179.10,346.11 L179.38,346.30 L179.66,346.50 L179.95,346.69 L180.23,346.89 L180.51,347.08 L180.79,347.27 L181.08,347.46 L181.36,347.65 L181.64,347.83 L181.92,348.02 L182.21,348.20 L182.49,348.39 L182.77,348.57 L183.05,348.75 L183.34,348.93 L183.62,349.10 L183.90,349.28 L184.18,349.46 L184.46,349.63 L184.75,349.80 L185.03,349.97 L185.31,350.14 L185.59,350.31 L185.88,350.48 L186.16,350.65 L186.44,350.81 L186.72,350.98 L187.01,351.14 L187.29,351.31 L187.57,351.47 L187.85,351.63 L188.14,351.79 L188.42,351.94 L188.70,352.10 L188.98,352.26 L189.27,352.41 L189.55,352.57 L189.83,352.72 L190.11,352.87 L190.40,353.02 L190.68,353.17 L190.96,353.32 L191.24,353.47 L191.53,353.62 L191.81,353.76 L192.09,353.91 L192.37,354.05 L192.66,354.19 L192.94,354.34 L193.22,354.48 L193.50,354.62 L193.79,354.76 L194.07,354.89 L194.35,355.03 L194.63,355.17 L194.92,355.30 L195.20,355.44 L195.48,355.57 L195.76,355.70 L196.05,355.84 L196.33,355.97 L196.61,356.10 L196.89,356.23 L197.18,356.35 L197.46,356.48 L197.74,356.61 L198.02,356.73 L198.31,356.86 L198.59,356.98 L198.87,357.11 L199.15,357.23 L199.44,357.35 L199.72,357.47 L200.00,357.59 L200.50,357.80 L201.45,358.19 L202.40,358.57 L203.34,358.95 L204.29,359.31 L205.24,359.67 L206.19,360.02 L207.14,360.36 L208.08,360.69 L209.03,361.01 L209.98,361.33 L210.93,361.63 L211.87,361.93 L212.82,362.22 L213.77,362.51 L214.72,362.78 L215.67,363.05 L216.61,363.32 L217.56,363.57 L218.51,363.82 L219.46,364.06 L220.41,364.29 L221.35,364.52 L222.30,364.74 L223.25,364.95 L224.20,365.15 L225.15,365.35 L226.09,365.54 L227.04,365.73 L227.99,365.91 L228.94,366.08 L229.88,366.25 L230.83,366.41 L231.78,366.56 L232.73,366.71 L233.68,366.86 L234.62,366.99 L235.57,367.12 L236.52,367.25 L237.47,367.37 L238.42,367.48 L239.36,367.59 L240.31,367.70 L241.26,367.79 L242.21,367.89 L243.16,367.98 L244.10,368.06 L245.05,368.14 L246.00,368.21 L246.95,368.28 L247.89,368.35 L248.84,368.41 L249.79,368.46 L250.74,368.51 L251.69,368.56 L252.63,368.60 L253.58,368.64 L254.53,368.67 L255.48,368.70 L256.43,368.73 L257.37,368.75 L258.32,368.77 L259.27,368.79 L260.22,368.80 L261.17,368.80 L262.11,368.81 L263.06,368.81 L264.01,368.81 L264.96,368.80 L265.90,368.79 L266.85,368.78 L267.80,368.76 L268.75,368.75 L269.70,368.72 L270.64,368.70 L271.59,368.67 L272.54,368.64 L273.49,368.61 L274.44,368.58 L275.38,368.54 L276.33,368.50 L277.28,368.46 L278.23,368.41 L279.18,368.37 L280.12,368.32 L281.07,368.27 L282.02,368.22 L282.97,368.16 L283.91,368.10 L284.86,368.05 L285.81,367.99 L286.76,367.93 L287.71,367.86 L288.65,367.80 L289.60,367.73 L290.55,367.66 L291.50,367.60 L292.45,367.53 L293.39,367.45 L294.34,367.38 L295.29,367.31 L296.24,367.23 L297.19,367.16 L298.13,367.08 L299.08,367.01 L300.03,366.93 L300.98,366.85 L301.92,366.77 L302.87,366.69 L303.82,366.61 L304.77,366.53 L305.72,366.45 L306.66,366.37 L307.61,366.29 L308.56,366.21 L309.51,366.13 L310.46,366.05 L311.40,365.97 L312.35,365.89 L313.30,365.81 L314.25,365.73 L315.20,365.65 L316.14,365.57 L317.09,365.49 L318.04,365.41 L318.99,365.33 L319.93,365.25 L320.88,365.18 L321.83,365.10 L322.78,365.02 L323.73,364.95 L324.67,364.87 L325.62,364.79 L326.57,364.72 L327.52,364.64 L328.47,364.57 L329.41,364.49 L330.36,364.42 L331.31,364.34 L332.26,364.27 L333.21,364.20 L334.15,364.12 L335.10,364.05 L336.05,363.98 L337.00,363.91 L337.94,363.84 L338.89,363.77 L339.84,363.69 L340.79,363.62 L341.74,363.55 L342.68,363.48 L343.63,363.41 L344.58,363.34 L345.53,363.27 L346.48,363.21 L347.42,363.14 L348.37,363.07 L349.32,363.00 L350.27,362.93 L351.22,362.87 L352.16,362.80 L353.11,362.73 L354.06,362.67 L355.01,362.60 L355.95,362.54 L356.90,362.47 L357.85,362.41 L358.80,362.34 L359.75,362.28 L360.69,362.21 L361.64,362.15 L362.59,362.09 L363.54,362.02 L364.49,361.96 L365.43,361.90 L366.38,361.84 L367.33,361.78 L368.28,361.71 L369.23,361.65 L370.17,361.59 L371.12,361.53 L372.07,361.47 L373.02,361.41 L373.96,361.35 L374.91,361.29 L375.86,361.23 L376.81,361.17 L377.76,361.12 L378.70,361.06 L379.65,361.00 L380.60,360.94 L381.55,360.88 L382.50,360.83 L383.44,360.77 L384.39,360.71 L385.34,360.66 L386.29,360.60 L387.24,360.55 L388.18,360.49 L389.13,360.44 L390.08,360.38 L391.03,360.33 L391.97,360.27 L392.92,360.22 L393.87,360.17 L394.82,360.11 L395.77,360.06 L396.71,360.01 L397.66,359.96 L398.61,359.90 L399.56,359.85 L400.51,359.80 L401.45,359.75 L402.40,359.70 L403.35,359.65 L404.30,359.60 L405.25,359.55 L406.19,359.50 L407.14,359.45 L408.09,359.40 L409.04,359.35 L409.98,359.30 L410.93,359.25 L411.88,359.21 L412.83,359.16 L413.78,359.11 L414.72,359.06 L415.67,359.02 L416.62,358.97 L417.57,358.92 L418.52,358.88 L419.46,358.83 L420.41,358.79 L421.36,358.74 L422.31,358.70 L423.26,358.65 L424.20,358.61 L425.15,358.56 L426.10,358.52 L427.05,358.47 L427.99,358.43 L428.94,358.39 L429.89,358.35 L430.84,358.30 L431.79,358.26 L432.73,358.22 L433.68,358.18 L434.63,358.13 L435.58,358.09 L436.53,358.05 L437.47,358.01 L438.42,357.97 L439.37,357.93 L440.32,357.89 L441.27,357.85 L442.21,357.81 L443.16,357.77 L444.11,357.73 L445.06,357.69 L446.01,357.65 L446.95,357.62 L447.90,357.58 L448.85,357.54 L449.80,357.50 L450.74,357.47 L451.69,357.43 L452.64,357.39 L453.59,357.36 L454.54,357.32 L455.48,357.28 L456.43,357.25 L457.38,357.21 L458.33,357.15 L459.28,356.77 L460.22,356.60 L461.17,356.60 L462.12,356.60 L463.07,356.60 L464.02,356.60 L464.96,356.60 L465.91,356.60 L466.86,356.60 L467.81,356.60 L468.75,356.60 L469.70,356.60 L470.65,356.60 L471.60,356.60 L472.55,356.60 L473.49,356.60 L474.44,356.60 L475.39,356.60 L476.34,356.60 L477.29,356.60 L478.23,356.60 L479.18,356.60 L480.13,356.60 L481.08,356.60 L482.03,356.60 L482.97,356.60 L483.92,356.60 L484.87,356.60 L485.82,356.60 L486.76,356.60 L487.71,356.60 L488.66,356.60 L489.61,356.60 L490.56,356.60 L491.50,356.60 L492.45,356.60 L493.40,356.60 L494.35,356.60 L495.30,356.58 L496.24,356.07 L497.19,355.80 L498.14,355.80 L499.09,355.80 L500.04,355.80 L500.98,355.80 L501.93,355.80 L502.88,355.80 L503.83,355.80 L504.77,355.80 L505.72,355.80 L506.67,355.80 L507.62,355.80 L508.57,355.80 L509.51,355.80 L510.46,355.80 L511.41,355.80 L512.36,355.80 L513.31,355.80 L514.25,355.80 L515.20,355.80 L516.15,355.80 L517.10,355.80 L518.05,355.80 L518.99,355.80 L519.94,355.80 L520.89,355.80 L521.84,355.80 L522.78,355.80 L523.73,355.80 L524.68,355.80 L525.63,355.80 L526.58,355.80 L527.52,355.80 L528.47,355.80 L529.42,355.72 L530.37,355.28 L531.32,355.10 L532.26,355.10 L533.21,355.10 L534.16,355.10 L535.11,355.10 L536.06,355.10 L537.00,355.10 L537.95,355.10 L538.90,355.10 L539.85,355.10 L540.79,355.10 L541.74,355.10 L542.69,355.10 L543.64,355.10 L544.59,355.10 L545.53,355.10 L546.48,355.10 L547.43,355.10 L548.38,355.10 L549.33,355.10 L550.27,355.10 L551.22,355.10 L552.17,355.10 L553.12,354.49 L554.07,354.05 L555.01,354.05 L555.96,354.05 L556.91,354.05 L557.86,354.05 L558.80,354.05 L559.75,354.05 L560.70,354.05 L561.65,354.05 L562.60,354.05 L563.54,354.05 L564.49,354.05 L565.44,354.05 L566.39,354.05 L567.34,354.05 L568.28,354.05 L569.23,354.05 L570.18,354.05 L571.13,354.05 L572.08,354.05 L573.02,354.05 L573.97,354.05 L574.92,354.05 L575.87,354.05 L576.81,354.05 L577.76,354.05 L578.71,354.05 L579.66,354.05 L580.61,354.05 L581.55,354.05 L582.50,354.05 L583.45,354.05 L584.40,354.05 L585.35,354.05 L586.29,354.05 L587.24,354.05 L588.19,354.05 L589.14,354.05 L590.09,354.05 L591.03,354.05 L591.98,354.05 L592.93,354.05 L593.88,354.05 L594.82,354.05 L595.77,354.05 L596.72,354.05 L597.67,354.05 L598.62,354.05 L599.56,354.05 L600.51,354.05 L601.46,354.05 L602.41,354.05 L603.36,354.05 L604.30,354.05 L605.25,354.05 L606.20,354.05 L607.15,354.05 L608.10,354.05 L609.04,354.05 L609.99,354.05 L610.94,354.05 L611.89,354.05 L612.83,354.05 L613.78,354.05 L614.73,354.05 L615.68,354.05 L616.63,354.05 L617.57,354.05 L618.52,354.05 L619.47,354.05 L620.42,354.05 L621.37,354.05 L622.31,354.05 L623.26,354.05 L624.21,354.05 L625.16,354.05 L626.11,354.05 L627.05,354.05 L628.00,354.05 L628.95,354.05 L629.90,354.05 L630.84,354.05 L631.79,354.05 L632.74,354.05 L633.69,354.05 L634.64,354.05 L635.58,354.05 L636.53,354.05 L637.48,354.05 L638.43,354.05 L639.38,354.05 L640.32,354.05 L641.27,354.05 L642.22,354.05 L643.17,354.05 L644.12,354.05 L645.06,354.05 L646.01,354.05 L646.96,354.05 L647.91,354.05 L648.85,354.05 L649.80,354.05 L650.75,354.05 L651.70,354.05 L652.65,354.05 L653.59,354.05 L654.54,354.05 L655.49,354.05 L656.44,354.05 L657.39,354.05 L658.33,354.05 L659.28,354.05 L660.23,354.05 L661.18,354.05 L662.13,354.05 L663.07,354.05 L664.02,354.05 L664.97,354.05 L665.92,354.05 L666.86,354.05 L667.81,354.05 L668.76,354.05 L669.71,354.05 L670.66,354.05 L671.60,354.05 L672.55,354.05 L673.50,354.05" stroke="#0000ff"/>
</g>
<path d="M76.0,3.9H683.5V379.8H76.0Z" fill="none" stroke="#3c3c3c" stroke-width="1.8"/>
<path d="M76.0,370.50h3.2M683.5,370.50h-3.2M76.0,353.50h5.5M683.5,353.50h-5.5M76.0,336.26h3.2M683.5,336.26h-3.2M76.0,319.02h3.2M683.5,319.02h-3.2M76.0,301.78h3.2M683.5,301.78h-3.2M76.0,284.54h3.2M683.5,284.54h-3.2M76.0,267.30h5.5M683.5,267.30h-5.5M76.0,250.26h3.2M683.5,250.26h-3.2M76.0,233.22h3.2M683.5,233.22h-3.2M76.0,216.18h3.2M683.5,216.18h-3.2M76.0,199.14h3.2M683.5,199.14h-3.2M76.0,182.10h5.5M683.5,182.10h-5.5M76.0,164.87h3.2M683.5,164.87h-3.2M76.0,147.64h3.2M683.5,147.64h-3.2M76.0,130.41h3.2M683.5,130.41h-3.2M76.0,113.18h3.2M683.5,113.18h-3.2M76.0,95.95h5.5M683.5,95.95h-5.5M76.0,78.93h3.2M683.5,78.93h-3.2M76.0,61.92h3.2M683.5,61.92h-3.2M76.0,44.90h3.2M683.5,44.90h-3.2M76.0,27.89h3.2M683.5,27.89h-3.2M76.0,10.87h5.5M683.5,10.87h-5.5M94.78,379.8v-3.2M94.78,3.9v3.2M130.89,379.8v-3.2M130.89,3.9v3.2M167.00,379.8v-5.5M167.00,3.9v5.5M203.11,379.8v-3.2M203.11,3.9v3.2M239.22,379.8v-3.2M239.22,3.9v3.2M275.33,379.8v-3.2M275.33,3.9v3.2M311.44,379.8v-5.5M311.44,3.9v5.5M347.55,379.8v-3.2M347.55,3.9v3.2M383.66,379.8v-3.2M383.66,3.9v3.2M419.77,379.8v-3.2M419.77,3.9v3.2M455.88,379.8v-5.5M455.88,3.9v5.5M491.99,379.8v-3.2M491.99,3.9v3.2M528.10,379.8v-3.2M528.10,3.9v3.2M564.21,379.8v-3.2M564.21,3.9v3.2M600.32,379.8v-5.5M600.32,3.9v5.5M636.43,379.8v-3.2M636.43,3.9v3.2M672.54,379.8v-3.2M672.54,3.9v3.2" fill="none" stroke="#3c3c3c" stroke-width="1.3"/>
<g font-size="29" fill="#000" text-anchor="end"><text x="72.1" y="20.1">0.4</text><text x="72.1" y="105.2">0.3</text><text x="72.1" y="191.3">0.2</text><text x="72.1" y="276.5">0.1</text><text x="72.1" y="362.7">0.0</text></g>
<g font-size="29" fill="#000" text-anchor="middle"><text x="167.4" y="408.6">2</text><text x="311.8" y="408.6">4</text><text x="456.3" y="408.6">6</text><text x="600.7" y="408.6">8</text></g>
<text transform="translate(21.6,217.2) rotate(-90)" font-size="29.5" letter-spacing="0.4">f<tspan dx="0.6">'</tspan>(<tspan font-style="italic">η</tspan>)</text>
<g font-size="29" fill="#ff00ff" color="#ff00ff">
<text x="309.6" y="53.8">Ag</text>
<text x="375" y="53.8">GO</text>
<text x="446.2" y="53.8">EG</text>
</g>
<rect x="351.80" y="42.55" width="15.60" height="1.5" fill="#ff00ff"/><rect x="358.85" y="35.60" width="1.5" height="15.40" fill="#ff00ff"/><rect x="423.50" y="42.55" width="15.60" height="1.5" fill="#ff00ff"/><rect x="430.55" y="35.60" width="1.5" height="15.40" fill="#ff00ff"/>
<path d="M503,39.6H638" stroke="#6a6ab6" stroke-width="1.8"/>
<g font-size="29" fill="#000">

<text x="341.4" y="99">0.50, 0.70, 0.90,</text>
<text transform="translate(270,140) scale(1.1,0.95)" font-style="italic">ϕ</text>
<text x="285.6" y="145" font-size="20.5">1</text>
<text transform="translate(329.8,140) scale(1.1,0.95)" font-style="italic">ϕ</text>
<text x="345" y="145" font-size="20.5">2</text>
<text x="389.3" y="140">0.03,</text>
<text x="455" y="140">Ma</text>
<text x="526.8" y="140">.70</text>
</g>
<rect x="317.6" y="88.15" width="15.30" height="1.5" fill="#1a1a1a"/><rect x="317.6" y="93.85" width="15.30" height="1.5" fill="#1a1a1a"/><rect x="305.4" y="129.05" width="15.60" height="1.5" fill="#1a1a1a"/><rect x="305.4" y="134.35" width="15.60" height="1.5" fill="#1a1a1a"/><rect x="365.6" y="129.05" width="15.30" height="1.5" fill="#1a1a1a"/><rect x="365.6" y="134.35" width="15.30" height="1.5" fill="#1a1a1a"/><rect x="503.0" y="129.05" width="15.40" height="1.5" fill="#1a1a1a"/><rect x="503.0" y="134.35" width="15.40" height="1.5" fill="#1a1a1a"/>
<path d="M297.0,80.2C298.0,78.6 299.8,78.3 300.7,80.0" stroke="#000" stroke-width="1.1" fill="none"/>
<path d="M300.2,79.6C301.0,80.6 301.3,81.6 301.8,83.2L305.2,94.6C305.9,97.0 307.3,97.9 308.8,96.7" stroke="#000" stroke-width="2.1" fill="none"/>
<path d="M301.3,88.4L294.9,98.4" stroke="#000" stroke-width="1.5" fill="none"/>
<path d="M185.5,200.2L126,313" stroke="#3e3e9e" stroke-width="1.4" fill="none"/>
<path d="M116.2,331.6L121.7,306.6L126.1,311.2L133.5,312.7Z" fill="#3e3e9e"/>
</svg>
</body></html>
